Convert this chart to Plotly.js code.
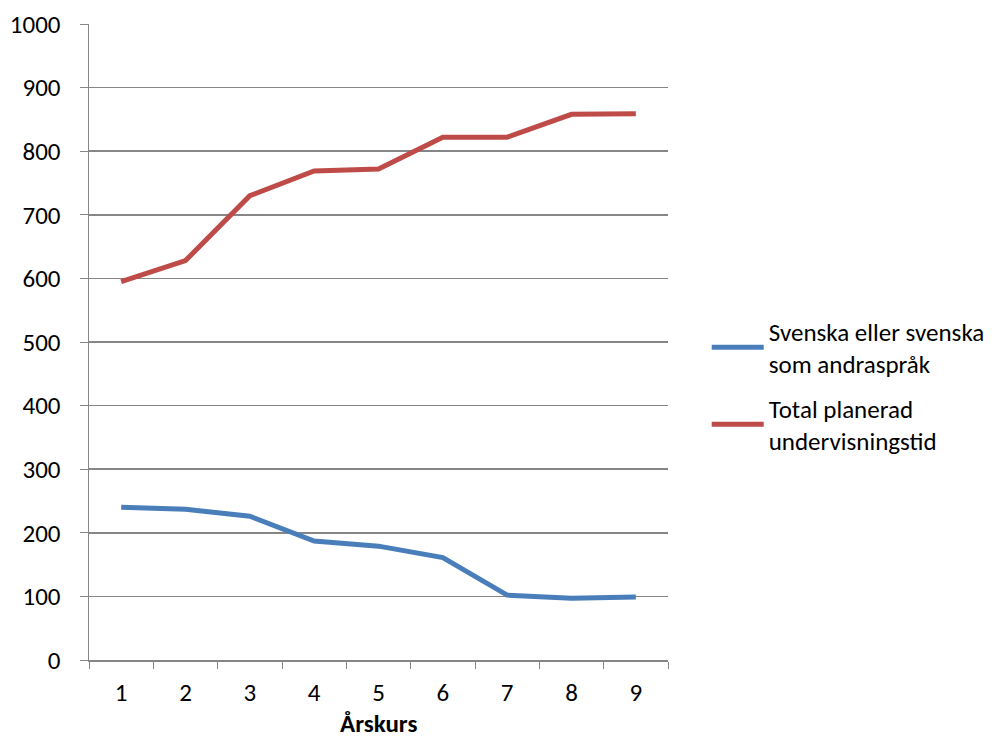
<!DOCTYPE html>
<html>
<head>
<meta charset="utf-8">
<script src="https://cdn.plot.ly/plotly-3.0.1.min.js"></script>
<style>html,body{margin:0;padding:0;background:#fff;}#chart{width:1001px;height:742px;}</style>
</head>
<body>
<div id="chart"></div>
<script>
const categories = ["1","2","3","4","5","6","7","8","9"];
const svenska = [240, 237, 226, 187, 179, 161, 102, 97, 99];
const total = [595, 628, 730, 769, 772, 822, 822, 858, 859];
const seriesNames = ["Svenska eller svenska<br>som andraspråk", "Total planerad<br>undervisningstid"];
const xTitle = "Årskurs";
const yTicks = [0,100,200,300,400,500,600,700,800,900,1000];

const FONT = "Carlito, 'Open Sans', sans-serif";
const data = [
  {x: categories, y: svenska, name: seriesNames[0], legendgroup: "a", type: "scatter", mode: "lines",
   line: {color: "#4A7EBB", width: 5}},
  {x: categories, y: total, name: seriesNames[1], legendgroup: "b", type: "scatter", mode: "lines",
   line: {color: "#BE4B48", width: 5}}
];
const layout = {
  width: 1001, height: 742,
  margin: {l: 89, r: 332, t: 24, b: 82},
  paper_bgcolor: "#fff", plot_bgcolor: "#fff",
  font: {family: FONT, size: 25, color: "#000"},
  showlegend: true,
  legend: {x: 1.065, y: 0.553, xanchor: "left", yanchor: "top", traceorder: "grouped",
           font: {family: FONT, size: 25, color: "#000"}, tracegroupgap: 9, itemwidth: 52},
  xaxis: {type: "category", range: [-0.5, 8.5], tickson: "boundaries", ticks: "outside",
          ticklen: 7, tickcolor: "#868686", showline: true, linecolor: "#868686", linewidth: 1.5,
          showgrid: false, zeroline: false, ticklabelstandoff: 9},
  yaxis: {range: [0, 1000], tickvals: yTicks, ticks: "outside", ticklen: 8, tickcolor: "#868686",
          showline: true, linecolor: "#868686", linewidth: 1.5, showgrid: true,
          gridcolor: "#868686", gridwidth: 1.5, zeroline: false, ticklabelstandoff: 14},
  annotations: [{text: "<b>" + xTitle + "</b>", xref: "paper", yref: "paper", x: 0.5, y: -0.1,
                 xanchor: "center", yanchor: "middle", showarrow: false, borderpad: 0,
                 font: {family: FONT, size: 25, color: "#000"}}]
};
Plotly.newPlot("chart", data, layout, {displayModeBar: false, staticPlot: true});
</script>
</body>
</html>
